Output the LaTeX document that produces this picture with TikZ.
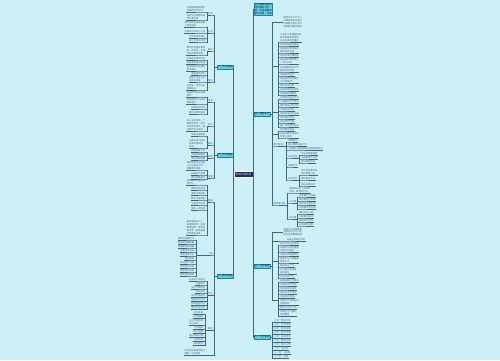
\documentclass[tikz,border=0pt]{standalone}
\usepackage{fontspec}
\newfontfamily\cjk{Noto Sans CJK SC}
\definecolor{bgc}{HTML}{CDEFF8}
\definecolor{lnk}{HTML}{3A6A80}
\definecolor{txt}{HTML}{56656F}
\definecolor{lonef}{HTML}{58CFE6}
\definecolor{loneb}{HTML}{2A7E9C}
\definecolor{rootf}{HTML}{1E2A66}
\tikzset{
  leaf/.style={font=\cjk\fontsize{2.3}{2.8}\selectfont, text=txt, inner xsep=0.4pt, inner ysep=0.5pt, align=left},
  conn/.style={draw=lnk, line width=0.35pt},
  trunk/.style={draw=lnk, line width=0.6pt},
  lone/.style={fill=lonef, draw=loneb, line width=0.3pt, font=\cjk\fontsize{2.4}{2.9}\selectfont, text=black!85, inner sep=0.6pt, align=left},
  rootn/.style={fill=rootf, draw=white, line width=0.3pt, text=white, font=\cjk\fontsize{2.6}{3}\selectfont, minimum width=19pt, minimum height=6pt, inner sep=0.5pt},
}
\newcommand\Rg[3]{\foreach \yy/\tx in {#3}{%
  \node[leaf,anchor=south west] (#1-\yy) at (#2+1.2,\yy) {\tx};
  \draw[conn] (#1) |- (#1-\yy.south west) -- (#1-\yy.south east);}}
\newcommand\Lg[3]{\foreach \yy/\tx in {#3}{%
  \node[leaf,anchor=south east] (#1-\yy) at (#2-1.2,\yy) {\tx};
  \draw[conn] (#1) |- (#1-\yy.south east) -- (#1-\yy.south west);}}
\begin{document}
\begin{tikzpicture}[x=1pt,y=-1pt]
\fill[bgc] (0,0) rectangle (500,360);
\useasboundingbox (0,0) rectangle (500,360);
\node[rootn] (root) at (243.5,174) {学校工作计划};
\coordinate (RT) at (253.6,174);
\coordinate (LT) at (233.4,174);
\draw[trunk] (root.east) -- (RT);
\draw[trunk] (root.west) -- (LT);
% right level 1
\node[lone,anchor=west] (R0) at (254.2,9) {为全面贯彻落实\\党的教育方针，\\进一步提高教育\\教学质量，特制};
\node[lone,anchor=west] (R1) at (254.2,114) {四、教研工作};
\node[lone,anchor=west] (R2) at (254.2,266) {五、学生管理};
\node[lone,anchor=west] (R3) at (254.2,337) {六、工作安排};
\foreach \n in {R0,R1,R2,R3} \draw[trunk] (RT) |- (\n.west);
% left level 1
\node[lone,anchor=east] (L1) at (232.8,67) {一、工作目标};
\node[lone,anchor=east] (L2) at (232.8,155) {二、工作措施};
\node[lone,anchor=east] (L3) at (232.8,276) {三、教学常规};
\foreach \n in {L1,L2,L3} \draw[trunk] (LT) |- (\n.east);
% ---------- R1
\coordinate (J1) at (271.8,114);
\draw[conn] (R1.east) -- (J1);
\node[leaf,anchor=west] (R1a) at (283,22) {围绕学校工作中心\\以课程改革为重点\\加强教学研究工作\\提高教师整体素质};
\draw[conn] (J1) |- (R1a.west);
\coordinate (J1b) at (278.5,66); \draw[conn] (J1) |- (J1b);
\Rg{J1b}{278.5}{42/{认真学习新课程标准\\转变教育教学观念\\树立正确的质量观}, 46/积极开展集体备课, 53/{组织教师参加各级\\教研培训活动}, 57/落实听课评课制度, 64/{每位教师每学期上\\一节公开课}, 72/{开展课题研究工作\\做好资料收集}, 76/加强教学反思, 83/{鼓励教师撰写教学\\论文和案例}, 87/做好校本培训, 91/开展师徒结对活动, 95/加强教研组建设}
\coordinate (J1c) at (278.5,112); \draw[conn] (J1) |- (J1c);
\Rg{J1c}{278.5}{99/积极参加业务学习, 103/认真撰写学习笔记, 107/做好经验交流工作, 111/开展读书活动, 115/加强信息技术应用, 119/做好课件制作, 123/组织教学观摩, 127/推广优秀教学经验}
\coordinate (J1d) at (278.5,134); \draw[conn] (J1) |- (J1d);
\Rg{J1d}{278.5}{131/规范教学常规, 138/{加强对教学常规的\\检查与指导}}
\Rg{J1}{271.8}{146/教学管理}
\coordinate (J1e) at (286.5,146); \draw[conn] (J1-146.south east) -- (J1e);
\Rg{J1e}{286.5}{142/备课要求, 146/做好课前准备工作, 150/上课要认真组织教学提高课堂效率, 158/作业批改, 167/辅导学生, 180/考核评价}
\coordinate (J1f) at (299.5,158); \draw[conn] (J1e-158.south east) -- (J1f);
\Rg{J1f}{299.5}{155/作业布置要适量, 159/批改要及时认真, 163/做好错题讲评}
\coordinate (J1g) at (299.5,180); \draw[conn] (J1e-180.south east) -- (J1g);
\Rg{J1g}{299.5}{175/{单元检测要及时\\做好质量分析}, 180/期中期末考试, 186/做好成绩统计}
\Rg{J1}{271.8}{205/教研组活动}
\coordinate (J1h) at (287.5,205); \draw[conn] (J1-205.south east) -- (J1h);
\Rg{J1h}{287.5}{193/{每两周开展一次教研\\活动，做到定时间}, 203/公开课, 219/研讨课}
\coordinate (J1i) at (297.5,203); \draw[conn] (J1h-203.south east) -- (J1i);
\Rg{J1i}{297.5}{197/青年教师汇报课, 201/骨干教师示范课, 205/教学能手展示课, 209/优质课评选活动}
\coordinate (J1j) at (297.5,219); \draw[conn] (J1h-219.south east) -- (J1j);
\Rg{J1j}{297.5}{214/确定研讨主题, 218/组织集中研讨, 222/撰写研讨总结, 226/形成研究成果}
% ---------- R2
\coordinate (J2) at (271.8,266); \draw[conn] (R2.east) -- (J2);
\node[leaf,anchor=west] (R2a) at (283,232) {加强学生思想教育\\培养良好行为习惯\\促进全面健康发展};
\draw[conn] (J2) |- (R2a.west);
\Rg{J2}{284.8}{241/开展主题班会活动}
\coordinate (J2c) at (278.5,261); \draw[conn] (J2) |- (J2c);
\Rg{J2c}{278.5}{245/抓好学生日常管理, 252/{加强学生安全教育\\增强安全意识}, 256/开展文明班级评比, 263/{重视学生心理健康\\教育工作}, 267/做好家访工作, 274/{召开家长会加强\\家校联系}, 278/评选优秀学生}
\coordinate (J2d) at (278.5,300); \draw[conn] (J2) |- (J2d);
\Rg{J2d}{278.5}{282/加强班级文化建设, 286/开展读书节活动, 290/组织体育运动会, 294/举办艺术节活动, 298/开展社会实践, 305/{组织学生参加各类\\竞赛活动}, 309/做好少先队工作, 316/{加强卫生习惯的\\养成教育}}
% ---------- R3
\coordinate (J3) at (272.5,337); \draw[conn] (R3.east) -- (J3);
\Rg{J3}{272.5}{322/二月：制定计划, 326/三月：开学检查, 330/四月：教研活动, 334/五月：期中考试, 338/六月：总结评比, 342/七月：期末考试, 346/九月：新生入学, 350/十月：运动会, 354/十一月：公开课, 358/十二月：总结}
% ---------- L1
\coordinate (JL1) at (214.6,67); \draw[conn] (L1.west) -- (JL1);
\Lg{JL1}{214.6}{15/目标, 33/任务, 51/要求, 82/重点}
\coordinate (JL1a) at (207,15); \draw[conn] (JL1-15.south west) -- (JL1a);
\Lg{JL1a}{207}{12/{全面提高教育教学\\质量和办学水平}, 20/{促进学生德智体美\\劳全面发展}}
\coordinate (JL1b) at (207,33); \draw[conn] (JL1-33.south west) -- (JL1b);
\Lg{JL1b}{207}{27/{教学成绩在原有基础\\上有所提高}, 33/合格率达到百分之百, 38/优秀率稳步提升, 42/减少学困生比例}
\coordinate (JL1c) at (207,51); \draw[conn] (JL1-51.south west) -- (JL1c);
\Lg{JL1c}{207}{55/{教师队伍整体素质\\进一步提高，形成\\良好的教研氛围}}
\coordinate (JL1d) at (207,82); \draw[conn] (JL1-82.south west) -- (JL1d);
\Lg{JL1d}{207}{60/加强学科教学研究, 64/深化课堂教学改革, 71/{积极探索高效课堂\\教学模式}, 75/提高教学效率, 82/{重视学生能力的\\培养和发展}, 90/{关注每一位学生的\\健康成长}}
% ---------- L2
\coordinate (JL2) at (214.6,155); \draw[conn] (L2.west) -- (JL2);
\Lg{JL2}{214.6}{102/师资, 126/教学, 145/教研, 158/德育, 178/后勤}
\coordinate (JL2a) at (207,102); \draw[conn] (JL2-102.south west) -- (JL2a);
\Lg{JL2a}{207}{97/{加强教师职业道德\\教育}, 104/{组织教师学习先进\\教育理论}, 109/开展岗位练兵, 114/做好新教师培养}
\coordinate (JL2b) at (207,126); \draw[conn] (JL2-126.south west) -- (JL2b);
\Lg{JL2b}{207}{131/{深入课堂听课，了\\解教学情况，及时\\反馈指导意见，促\\进教师专业成长}}
\coordinate (JL2c) at (207,145); \draw[conn] (JL2-145.south west) -- (JL2c);
\Lg{JL2c}{207}{136/定期开展教研, 148/{以教研组为单位\\开展专题研究\\活动}}
\coordinate (JL2d) at (207,158); \draw[conn] (JL2-158.south west) -- (JL2d);
\Lg{JL2d}{207}{152/加强德育工作, 156/开展养成教育, 160/抓好班级管理}
\coordinate (JL2e) at (207,178); \draw[conn] (JL2-178.south west) -- (JL2e);
\Lg{JL2e}{207}{170/{做好校园安全检查\\与卫生保洁工作\\保障教学秩序}, 175/加强财产管理, 179/做好后勤服务}
% ---------- L3
\coordinate (JL3) at (214.6,276); \draw[conn] (L3.west) -- (JL3);
\Lg{JL3}{214.6}{202/备课, 255/上课, 295/作业, 330/辅导}
\coordinate (JL3a) at (207,202); \draw[conn] (JL3-202.south west) -- (JL3a);
\Lg{JL3a}{207}{185/{备课要做到备教材\\备学生}, 190/教案书写规范, 195/重难点要突出, 200/教学过程完整, 205/注重教学反思, 210/提前一周备课, 235/{集体备课与个人\\备课相结合，发挥\\集体智慧，做到资\\源共享，提高备课\\的质量和效率}}
\coordinate (JL3b) at (196,255); \draw[conn] (JL3-255.south west) -- (JL3b);
\Lg{JL3b}{196}{240/课前准备要充分, 244/教学目标要明确, 248/讲解要精练准确, 252/注重师生互动, 256/面向全体学生, 260/因材施教, 264/板书设计合理, 268/不拖堂不压堂, 272/课后及时反思, 276/提高课堂效率}
\coordinate (JL3c) at (207,295); \draw[conn] (JL3-295.south west) -- (JL3c);
\Lg{JL3c}{207}{281/作业设计有层次, 285/分量适中, 289/书写工整规范, 293/批改及时, 297/批语有激励性, 301/错题及时订正, 305/定期检查作业, 309/做好作业记录}
\coordinate (JL3d) at (205,330); \draw[conn] (JL3-330.south west) -- (JL3d);
\Lg{JL3d}{205}{314/培优补差, 318/分层辅导, 325/{关注学困生的\\学习情况}, 329/个别辅导, 333/耐心细致, 337/做好辅导记录, 341/定期反馈, 345/家校配合}
\Lg{JL3}{207}{355/{对学困生要做到耐心\\细致，分层辅导}}
\end{tikzpicture}
\end{document}
